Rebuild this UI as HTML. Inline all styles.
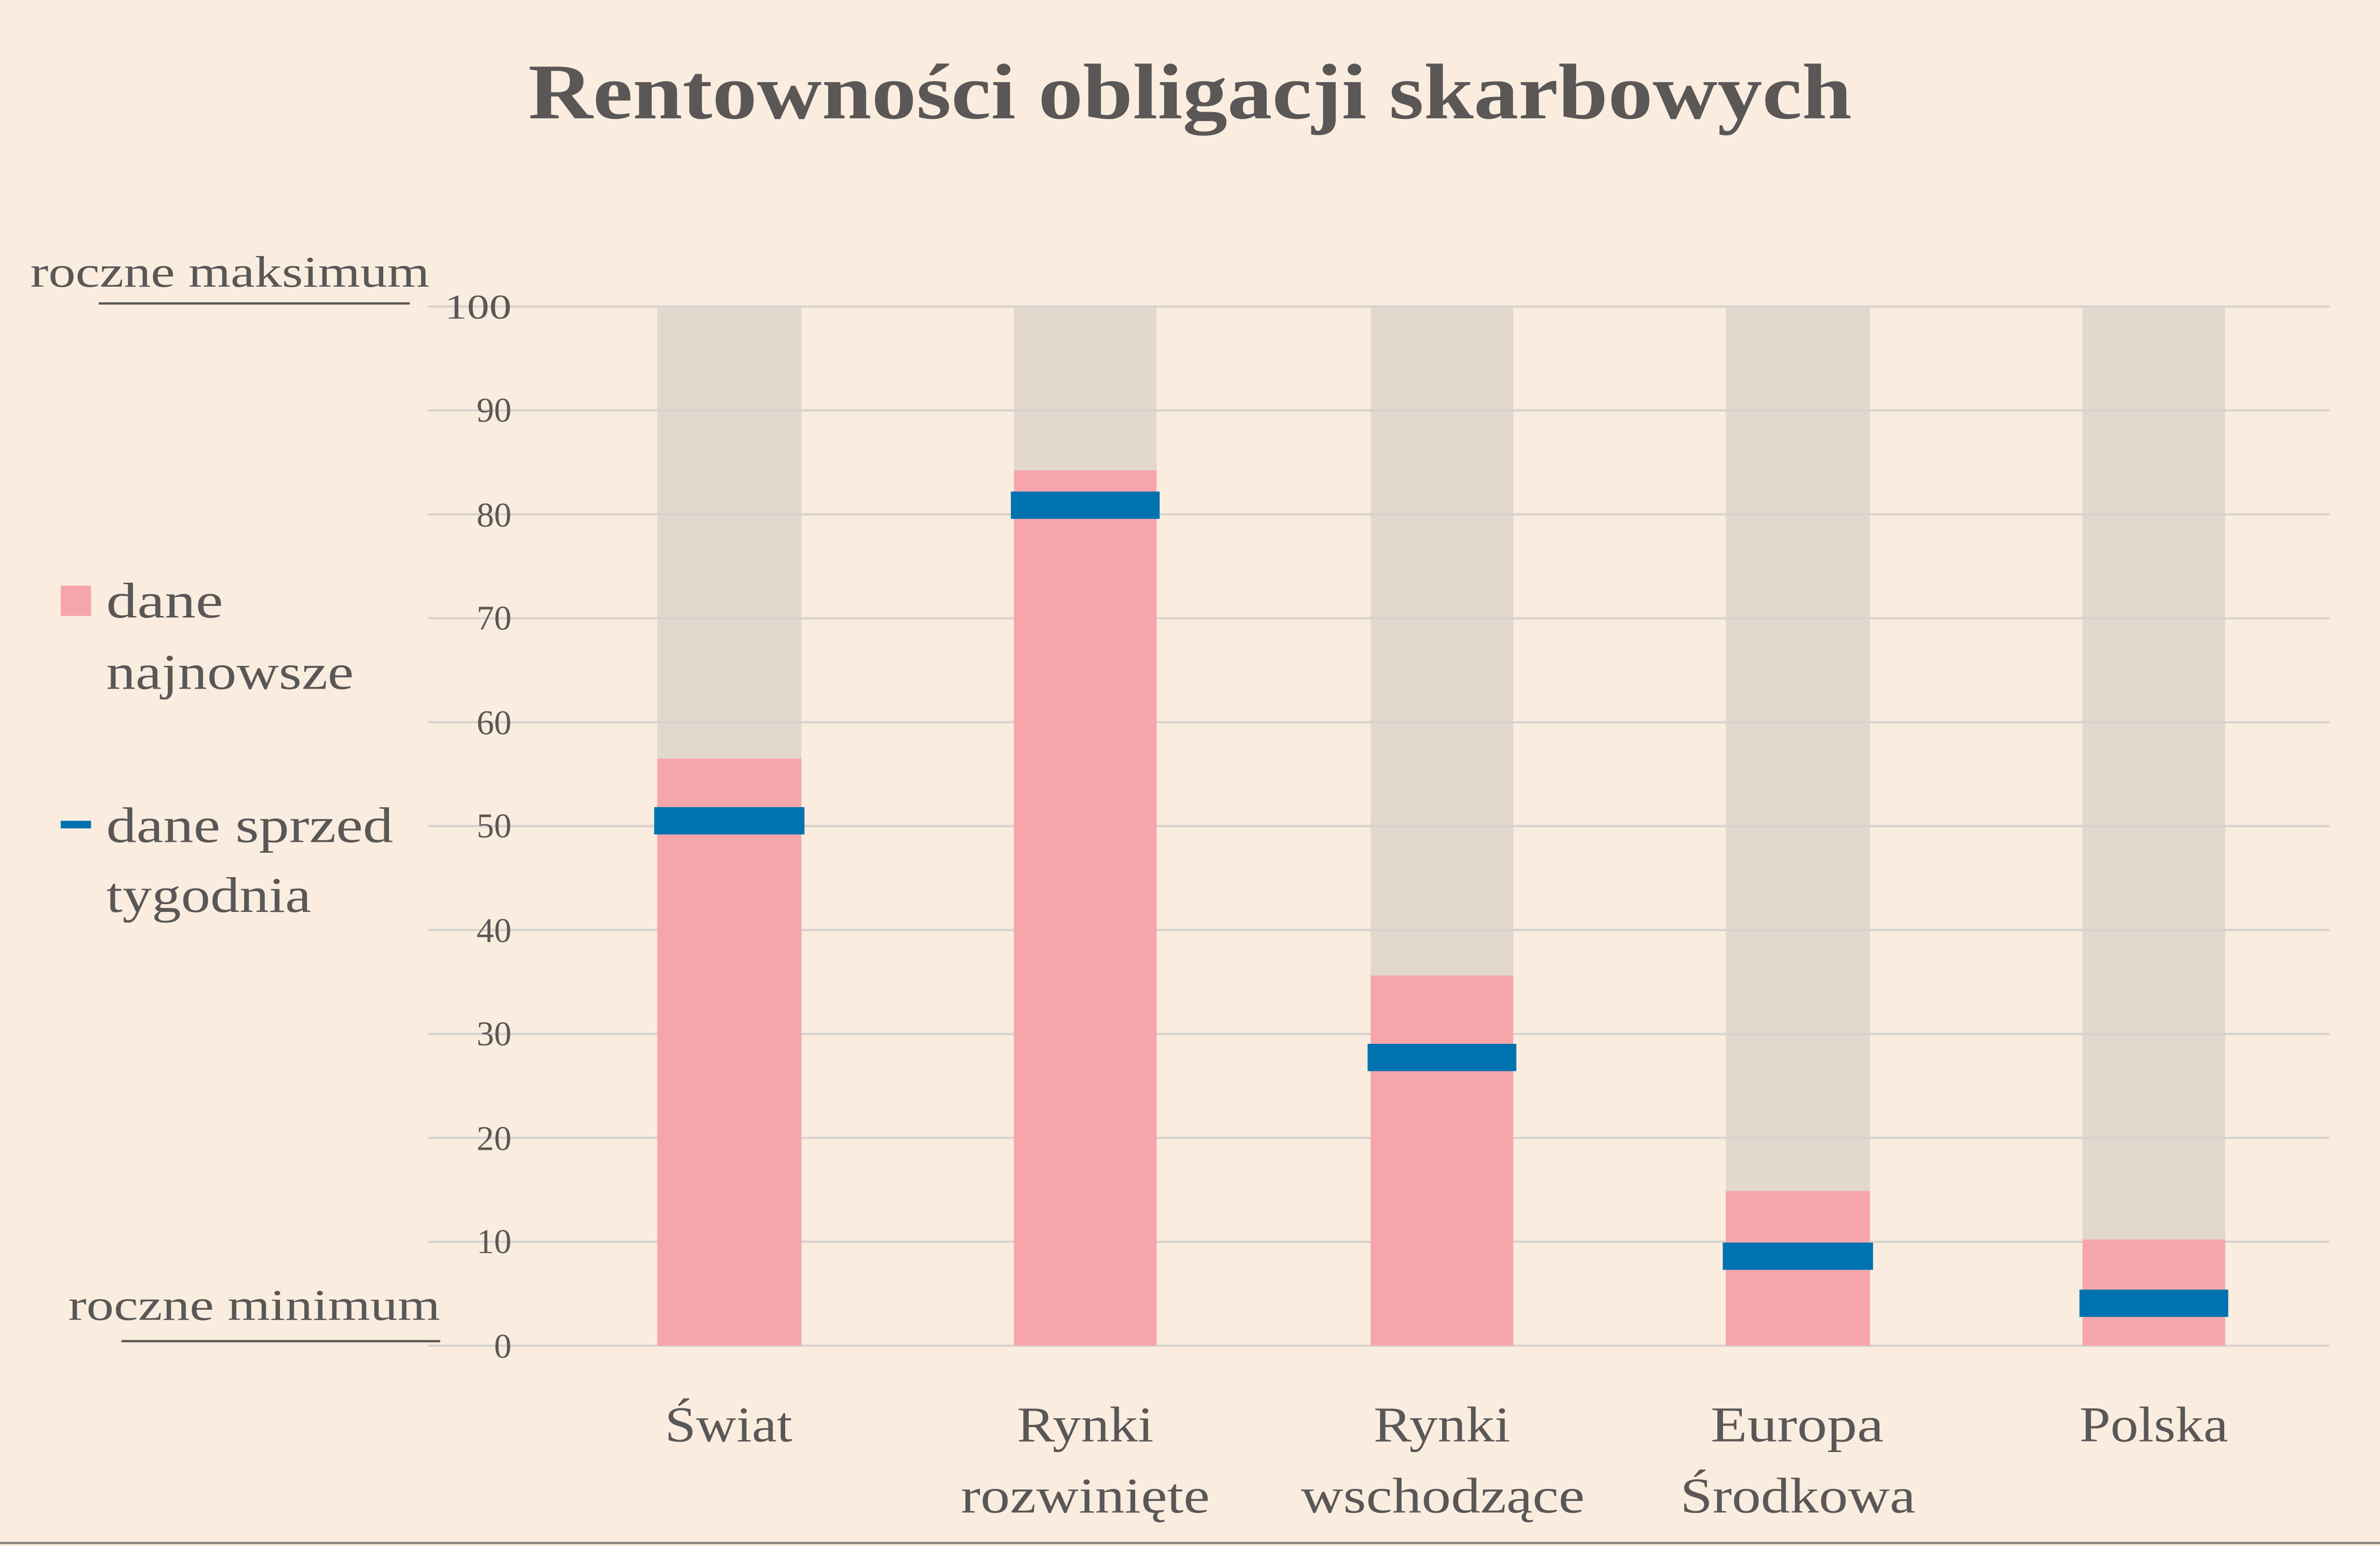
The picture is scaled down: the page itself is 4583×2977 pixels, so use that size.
<!DOCTYPE html>
<html><head><meta charset="utf-8"><style>
html,body{margin:0;padding:0;background:#FAEDE0;}
svg{display:block;}
text{font-family:"Liberation Serif",serif;fill:#5a5756;}
</style></head><body>
<svg width="4583" height="2977" viewBox="0 0 1568 1019" preserveAspectRatio="none" xmlns="http://www.w3.org/2000/svg">
<rect x="0" y="0" width="1568" height="1019" fill="#FAEDE0"/>
<text x="348" y="78" font-size="52" font-weight="bold" fill="#555" textLength="872" lengthAdjust="spacingAndGlyphs">Rentowności obligacji skarbowych</text>
<g fill="#E2D8CE">
<rect x="433" y="202" width="95" height="685"/>
<rect x="668" y="202" width="94" height="685"/>
<rect x="903" y="202" width="94" height="685"/>
<rect x="1137" y="202" width="95" height="685"/>
<rect x="1372" y="202" width="94" height="685"/>
</g>
<g stroke="#d9d3cf" stroke-width="1.5">
<line x1="282" x2="1535" y1="202" y2="202"/>
<line x1="282" x2="1535" y1="270.5" y2="270.5"/>
<line x1="282" x2="1535" y1="339" y2="339"/>
<line x1="282" x2="1535" y1="407.5" y2="407.5"/>
<line x1="282" x2="1535" y1="476" y2="476"/>
<line x1="282" x2="1535" y1="544.5" y2="544.5"/>
<line x1="282" x2="1535" y1="613" y2="613"/>
<line x1="282" x2="1535" y1="681.5" y2="681.5"/>
<line x1="282" x2="1535" y1="750" y2="750"/>
<line x1="282" x2="1535" y1="818.5" y2="818.5"/>
<line x1="282" x2="1535" y1="887" y2="887"/>
</g>
<g fill="#F6A6AB">
<rect x="433" y="500" width="95" height="387"/>
<rect x="668" y="310" width="94" height="577"/>
<rect x="903" y="643" width="94" height="244"/>
<rect x="1137" y="785" width="95" height="102"/>
<rect x="1372" y="817" width="94" height="70"/>
</g>
<g fill="#0072B0">
<rect x="431" y="532" width="99" height="18"/>
<rect x="666" y="324" width="98" height="18"/>
<rect x="901" y="688" width="98" height="18"/>
<rect x="1135" y="819" width="99" height="18"/>
<rect x="1370" y="850" width="98" height="18"/>
</g>
<g font-size="23" text-anchor="end">
<text x="337" y="210" textLength="44" lengthAdjust="spacingAndGlyphs">100</text>
<text x="337" y="278">90</text>
<text x="337" y="347">80</text>
<text x="337" y="415">70</text>
<text x="337" y="484">60</text>
<text x="337" y="552">50</text>
<text x="337" y="621">40</text>
<text x="337" y="689">30</text>
<text x="337" y="758">20</text>
<text x="337" y="826">10</text>
<text x="337" y="895">0</text>
</g>
<g font-size="33" lengthAdjust="spacingAndGlyphs">
<text x="438" y="950" textLength="84" lengthAdjust="spacingAndGlyphs">Świat</text>
<text x="670" y="950" textLength="90" lengthAdjust="spacingAndGlyphs">Rynki</text>
<text x="633" y="997" textLength="164" lengthAdjust="spacingAndGlyphs">rozwinięte</text>
<text x="905" y="950" textLength="90" lengthAdjust="spacingAndGlyphs">Rynki</text>
<text x="857" y="997" textLength="187" lengthAdjust="spacingAndGlyphs">wschodzące</text>
<text x="1127" y="950" textLength="114" lengthAdjust="spacingAndGlyphs">Europa</text>
<text x="1107" y="997" textLength="155" lengthAdjust="spacingAndGlyphs">Środkowa</text>
<text x="1370" y="950" textLength="98" lengthAdjust="spacingAndGlyphs">Polska</text>
</g>
<g font-size="29">
<text x="20" y="189" textLength="263" lengthAdjust="spacingAndGlyphs">roczne maksimum</text>
<text x="45" y="870" textLength="245" lengthAdjust="spacingAndGlyphs">roczne minimum</text>
</g>
<line x1="65" x2="270" y1="200" y2="200" stroke="#5a5756" stroke-width="1.5"/>
<line x1="80" x2="290" y1="884" y2="884" stroke="#5a5756" stroke-width="1.5"/>
<rect x="40" y="386" width="20" height="20" fill="#F6A6AB"/>
<rect x="40" y="541" width="20" height="5" fill="#0072B0"/>
<g font-size="33">
<text x="70" y="407" textLength="77" lengthAdjust="spacingAndGlyphs">dane</text>
<text x="70" y="454" textLength="163" lengthAdjust="spacingAndGlyphs">najnowsze</text>
<text x="70" y="555" textLength="189" lengthAdjust="spacingAndGlyphs">dane sprzed</text>
<text x="70" y="601" textLength="135" lengthAdjust="spacingAndGlyphs">tygodnia</text>
</g>
<line x1="0" x2="1568" y1="1017" y2="1017" stroke="#8a8480" stroke-width="1.5"/>
</svg>
</body></html>
